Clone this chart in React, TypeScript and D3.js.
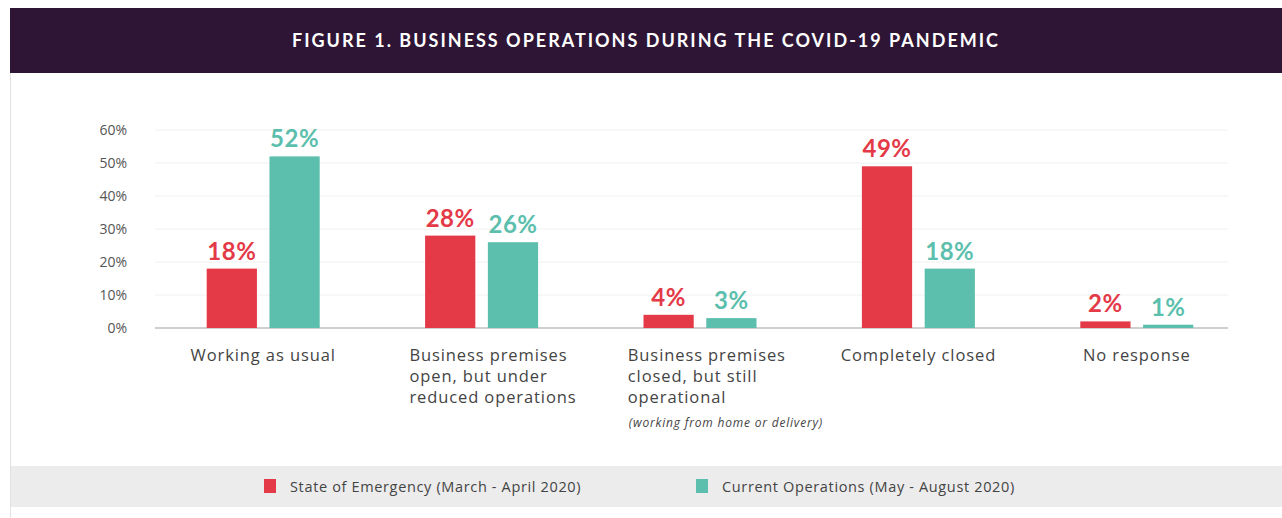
import * as d3 from 'd3';
import React, { useRef, useEffect } from 'react';

const categories = [
  'Working as usual',
  'Business premises open, but under reduced operations',
  'Business premises closed, but still operational',
  'Completely closed',
  'No response',
];
const categoryLines = [
  ['Working as usual'],
  ['Business premises', 'open, but under', 'reduced operations'],
  ['Business premises', 'closed, but still', 'operational'],
  ['Completely closed'],
  ['No response'],
];
const categoryNotes = ['', '', '(working from home or delivery)', '', ''];

const seriesNames = ['State of Emergency (March - April 2020)', 'Current Operations (May - August 2020)'];
const emergencyValues = [18, 28, 4, 49, 2];
const currentValues = [52, 26, 3, 18, 1];
const yTicks = [0, 10, 20, 30, 40, 50, 60];

const RED = '#e43a48';
const TEAL = '#5cbfad';
const FONT = 'Lato, "Open Sans", sans-serif';
const BODY = '"Open Sans", sans-serif';

function App(): any {
  const ref = useRef(null);

  const width = 1282;
  const height = 518;

  useEffect(() => {
    const svg = d3.select(ref.current);
    svg.selectAll('*').remove();

    // frame
    svg.append('rect').attr('x', 0).attr('y', 0).attr('width', width).attr('height', height).attr('fill', '#fff');
    svg.append('line')
      .attr('x1', 10.5).attr('x2', 10.5).attr('y1', 8).attr('y2', height)
      .attr('stroke', '#e2e2e2');
    svg.append('rect')
      .attr('x', 10).attr('y', 8).attr('width', width - 10).attr('height', 65)
      .attr('fill', '#2e1535');
    svg.append('text')
      .attr('x', 646).attr('y', 47)
      .attr('text-anchor', 'middle')
      .attr('fill', '#fff')
      .attr('font-family', FONT)
      .attr('font-weight', 700)
      .attr('font-size', 18)
      .attr('letter-spacing', 2)
      .text('FIGURE 1. BUSINESS OPERATIONS DURING THE COVID-19 PANDEMIC');

    const xScale = d3.scaleBand<string>()
      .domain(categories)
      .range([154, 1246]);
    const inner = d3.scaleBand<string>()
      .domain(['0', '1'])
      .range([0, 113])
      .paddingInner(0.2);
    const yScale = d3.scaleLinear()
      .domain([0, 60])
      .range([328, 130]);

    const plot = svg.append('g');

    // grid
    plot.selectAll('.grid')
      .data(yTicks)
      .join('line')
      .attr('class', 'grid')
      .attr('x1', 155).attr('x2', 1228)
      .attr('y1', (d) => yScale(d)).attr('y2', (d) => yScale(d))
      .attr('stroke', (d) => (d === 0 ? '#cfcfcf' : '#f0f0f0'))
      .attr('stroke-width', (d) => (d === 0 ? 2 : 1));

    plot.selectAll('.ytick')
      .data(yTicks)
      .join('text')
      .attr('class', 'ytick')
      .attr('x', 127)
      .attr('y', (d) => yScale(d) + 5)
      .attr('text-anchor', 'end')
      .attr('fill', '#555')
      .attr('font-family', BODY)
      .attr('font-size', 14)
      .text((d) => d + '%');

    const series = [emergencyValues, currentValues];
    const colors = [RED, TEAL];

    series.forEach((vals, s) => {
      const bw = inner.bandwidth();
      const off = (xScale.bandwidth() - 113) / 2 + (inner(String(s)) as number);
      plot.selectAll('.bar' + s)
        .data(vals)
        .join('rect')
        .attr('class', 'bar' + s)
        .attr('x', (_: number, i: number) => (xScale(categories[i]) as number) + off)
        .attr('y', (d) => yScale(d))
        .attr('width', bw)
        .attr('height', (d) => yScale(0) - yScale(d))
        .attr('fill', colors[s]);

      plot.selectAll('.val' + s)
        .data(vals)
        .join('text')
        .attr('class', 'val' + s)
        .attr('x', (_: number, i: number) => (xScale(categories[i]) as number) + off + bw / 2)
        .attr('y', (d) => yScale(d) - 9)
        .attr('text-anchor', 'middle')
        .attr('fill', colors[s])
        .attr('font-family', FONT)
        .attr('font-weight', 700)
        .attr('font-size', 24)
        .attr('letter-spacing', 0.5)
        .text((d) => d + '%');
    });

    // category labels
    categories.forEach((c, i) => {
      const x0 = xScale(c) as number;
      const lines = categoryLines[i];
      const multi = lines.length > 1;
      const t = plot.append('text')
        .attr('x', multi ? x0 + 37 : x0 + xScale.bandwidth() / 2)
        .attr('y', 361)
        .attr('text-anchor', multi ? 'start' : 'middle')
        .attr('fill', '#444')
        .attr('font-family', BODY)
        .attr('font-size', 16.5)
        .attr('letter-spacing', 0.9);
      lines.forEach((l, j) => {
        t.append('tspan')
          .attr('x', multi ? x0 + 37 : x0 + xScale.bandwidth() / 2)
          .attr('dy', j === 0 ? 0 : 21)
          .text(l);
      });
      if (categoryNotes[i]) {
        plot.append('text')
          .attr('x', x0 + 38)
          .attr('y', 427)
          .attr('fill', '#444')
          .attr('font-family', BODY)
          .attr('font-style', 'italic')
          .attr('font-size', 12)
          .attr('letter-spacing', 0.8)
          .text(categoryNotes[i]);
      }
    });

    // legend
    svg.append('rect')
      .attr('x', 11).attr('y', 466).attr('width', width - 11).attr('height', 41)
      .attr('fill', '#ececec');
    const legendX = [264, 696];
    seriesNames.forEach((n, s) => {
      svg.append('rect')
        .attr('x', legendX[s]).attr('y', 479).attr('width', 12).attr('height', 14)
        .attr('fill', colors[s]);
      svg.append('text')
        .attr('x', legendX[s] + 26).attr('y', 492)
        .attr('fill', '#444')
        .attr('font-family', BODY)
        .attr('font-size', 14.5)
        .attr('letter-spacing', 0.65)
        .text(n);
    });
  }, []);

  return (
    <svg
      ref={ref}
      width={width}
      height={height}
      style={{ position: 'absolute', left: 0, top: 0, display: 'block' }}
    />
  );
}

export default App;
